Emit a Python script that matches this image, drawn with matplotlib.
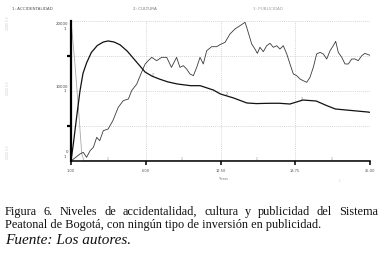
import matplotlib
matplotlib.use("Agg")
import matplotlib.pyplot as plt
import numpy as np

# ---------------- data ----------------
t1 = [0, 0.3, 0.6, 0.9, 1.1, 25]
accidentalidad = [20000, 14500, 8000, 1000, 0, 0]

t2 = [0, 0.2, 0.45, 0.75, 1.0, 1.3, 1.7, 2.2, 2.7, 3.1, 3.6, 4.1, 4.7, 5.4, 6.2, 6.8, 7.4,
      8.1, 8.9, 10.0, 10.8, 11.9, 12.5, 13.6, 14.7, 15.5, 16.4, 17.4, 18.3, 19.4, 20.5,
      21.4, 22.1, 23.6, 24.8, 25.0]
cultura = [0, 2500, 6000, 10000, 12500, 14000, 15500, 16500, 17000, 17150, 17000, 16600,
           15700, 14300, 12700, 12100, 11700, 11300, 11000, 10760, 10760, 10140, 9570,
           9000, 8290, 8200, 8240, 8250, 8140, 8710, 8570, 7900, 7430, 7190, 7000, 6950]

t3 = [0, 0.75, 1.03, 1.3, 1.6, 1.87, 2.15, 2.4, 2.7, 3.1, 3.5, 3.95, 4.37, 4.8, 5.07, 5.5,
      5.9, 6.2, 6.46, 6.75, 7.16, 7.58, 8.0, 8.4, 8.83, 9.11, 9.39, 9.67, 9.95, 10.23,
      10.51, 10.79, 11.06, 11.35, 11.76, 12.18, 12.46, 12.88, 13.29, 13.71, 14.13, 14.55,
      14.69, 15.11, 15.38, 15.58, 15.80, 16.08, 16.36, 16.64, 16.92, 17.20, 17.47, 17.75,
      18.04, 18.31, 18.59, 18.87, 19.15, 19.42, 19.71, 19.98, 20.26, 20.54, 20.82, 21.10,
      21.38, 21.66, 21.93, 22.13, 22.35, 22.64, 22.91, 23.19, 23.47, 23.75, 24.02, 24.31,
      24.58, 24.86, 25.0]
publicidad = [0, 1000, 1240, 520, 1480, 1950, 3380, 2900, 4330, 4570, 5760, 7670, 8620,
              8860, 10050, 11000, 12670, 13860, 14330, 14810, 14330, 14810, 14810, 13380,
              14810, 13380, 13620, 13140, 12430, 12190, 13380, 14810, 13860, 15760, 16330,
              16330, 16620, 16950, 18140, 18860, 19330, 19810, 19100, 16710, 16000, 15380,
              16240, 15620, 16470, 16810, 16240, 16470, 16000, 16470, 15290, 13860, 12430,
              12190, 11710, 11470, 11240, 11950, 13380, 15290, 15520, 15290, 14570, 15760,
              16470, 17100, 15520, 14810, 13860, 13860, 14570, 14570, 14330, 15050, 15380,
              15190, 15100]

x_ticks = [0, 6.25, 12.5, 18.75, 25]
x_tick_labels = ["1.00", "6.00", "12.50", "18.75", "25.00"]
legend_labels = ["1: ACCIDENTALIDAD", "2: CULTURA", "3: PUBLICIDAD"]
y_labels = ["20000", "10000", "0"]
caption_line1 = "Figura 6. Niveles de accidentalidad, cultura y publicidad del Sistema"
caption_line2 = "Peatonal de Bogotá, con ningún tipo de inversión en publicidad."
source = "Fuente: Los autores."

# ---------------- figure ----------------
W, H = 386, 255
fig = plt.figure(figsize=(W / 100, H / 100), dpi=100)
fig.patch.set_facecolor("white")

def fx(px):
    return px / W

def fy(py):
    return 1 - py / H

ax = fig.add_axes([fx(71), fy(162), fx(370) - fx(71), fy(22) - fy(162)])
ax.set_xlim(0, 25)
ax.set_ylim(0, 20000)

ax.plot(t1, accidentalidad, color="#a8a8a8", lw=0.6)
ax.plot(t3, publicidad, color="#3a3a3a", lw=0.6)
ax.plot(t2, cultura, color="#111111", lw=0.9)

# grid (dotted, light)
for xv in x_ticks[1:]:
    ax.axvline(xv, color="#c8c8c8", lw=0.5, ls=(0, (1.5, 1.5)), zorder=0)
for yv in [5000, 10000, 15000, 20000]:
    ax.axhline(yv, color="#c8c8c8", lw=0.5, ls=(0, (1.5, 1.5)), zorder=0)

for s in ["top", "right"]:
    ax.spines[s].set_visible(False)
ax.spines["left"].set_linewidth(1.6)
ax.spines["bottom"].set_linewidth(1.1)
ax.set_xticks(x_ticks)
ax.set_xticklabels(x_tick_labels, fontsize=2.6, color="#555555")
ax.tick_params(axis="x", length=3, width=1.1, pad=2)
ax.set_yticks([5000, 15000])
ax.set_yticklabels([])
ax.tick_params(axis="y", length=3, width=1.6)

# series markers along zero line (series 1) and on curve 2
for tm in [3.1, 9.25, 15.5, 21.75]:
    ax.text(tm, 150, "1", fontsize=2.2, color="#777777", ha="center", va="bottom")
for tm in [6.8, 13.0, 19.3]:
    yv = np.interp(tm, t2, cultura)
    ax.text(tm, yv + 100, "2", fontsize=2.2, color="#555555", ha="center", va="bottom")

# y labels
for lab, py in zip(y_labels, [24, 87, 152]):
    fig.text(fx(68), fy(py), lab, fontsize=2.8, color="#444444", ha="right", va="center")
    fig.text(fx(66), fy(py + 4.5), "1", fontsize=2.8, color="#444444", ha="right", va="center")

# faint rotated labels of other series at far left
for py in [23, 88, 152]:
    fig.text(fx(8), fy(py), "2000 3 2", fontsize=2.2, color="#c8c8c8", rotation=90,
             ha="center", va="center")

# header legend
for lab, px, c in zip(legend_labels, [12, 133, 253], ["#555555", "#777777", "#a0a0a0"]):
    fig.text(fx(px), fy(9), lab, fontsize=3.0, color=c, ha="left", va="center")

fig.text(fx(223), fy(179), "Years", fontsize=2.4, color="#777777", ha="center", va="center")
fig.text(fx(340), fy(181), "1", fontsize=2.0, color="#cccccc", ha="center", va="center")

# caption (justified first line)
serif = "Liberation Serif"
fs = 8.8
renderer = fig.canvas.get_renderer()
left_px, right_px = 5, 378
words = caption_line1.split(" ")
widths = []
for w in words:
    tt = fig.text(0, 0, w, fontsize=fs, family=serif)
    widths.append(tt.get_window_extent(renderer).width)
    tt.remove()
gap = (right_px - left_px - sum(widths)) / (len(words) - 1)
xp = left_px
for w, wd in zip(words, widths):
    fig.text(fx(xp), fy(212), w, fontsize=fs, family=serif, ha="left", va="center", color="#111111")
    xp += wd + gap
fig.text(fx(left_px), fy(225), caption_line2, fontsize=fs, family=serif, ha="left",
         va="center", color="#111111")
fig.text(fx(left_px), fy(241), source, fontsize=11.0, family=serif, style="italic",
         ha="left", va="center", color="#111111")

fig.savefig("out.png", dpi=100, facecolor="white")
